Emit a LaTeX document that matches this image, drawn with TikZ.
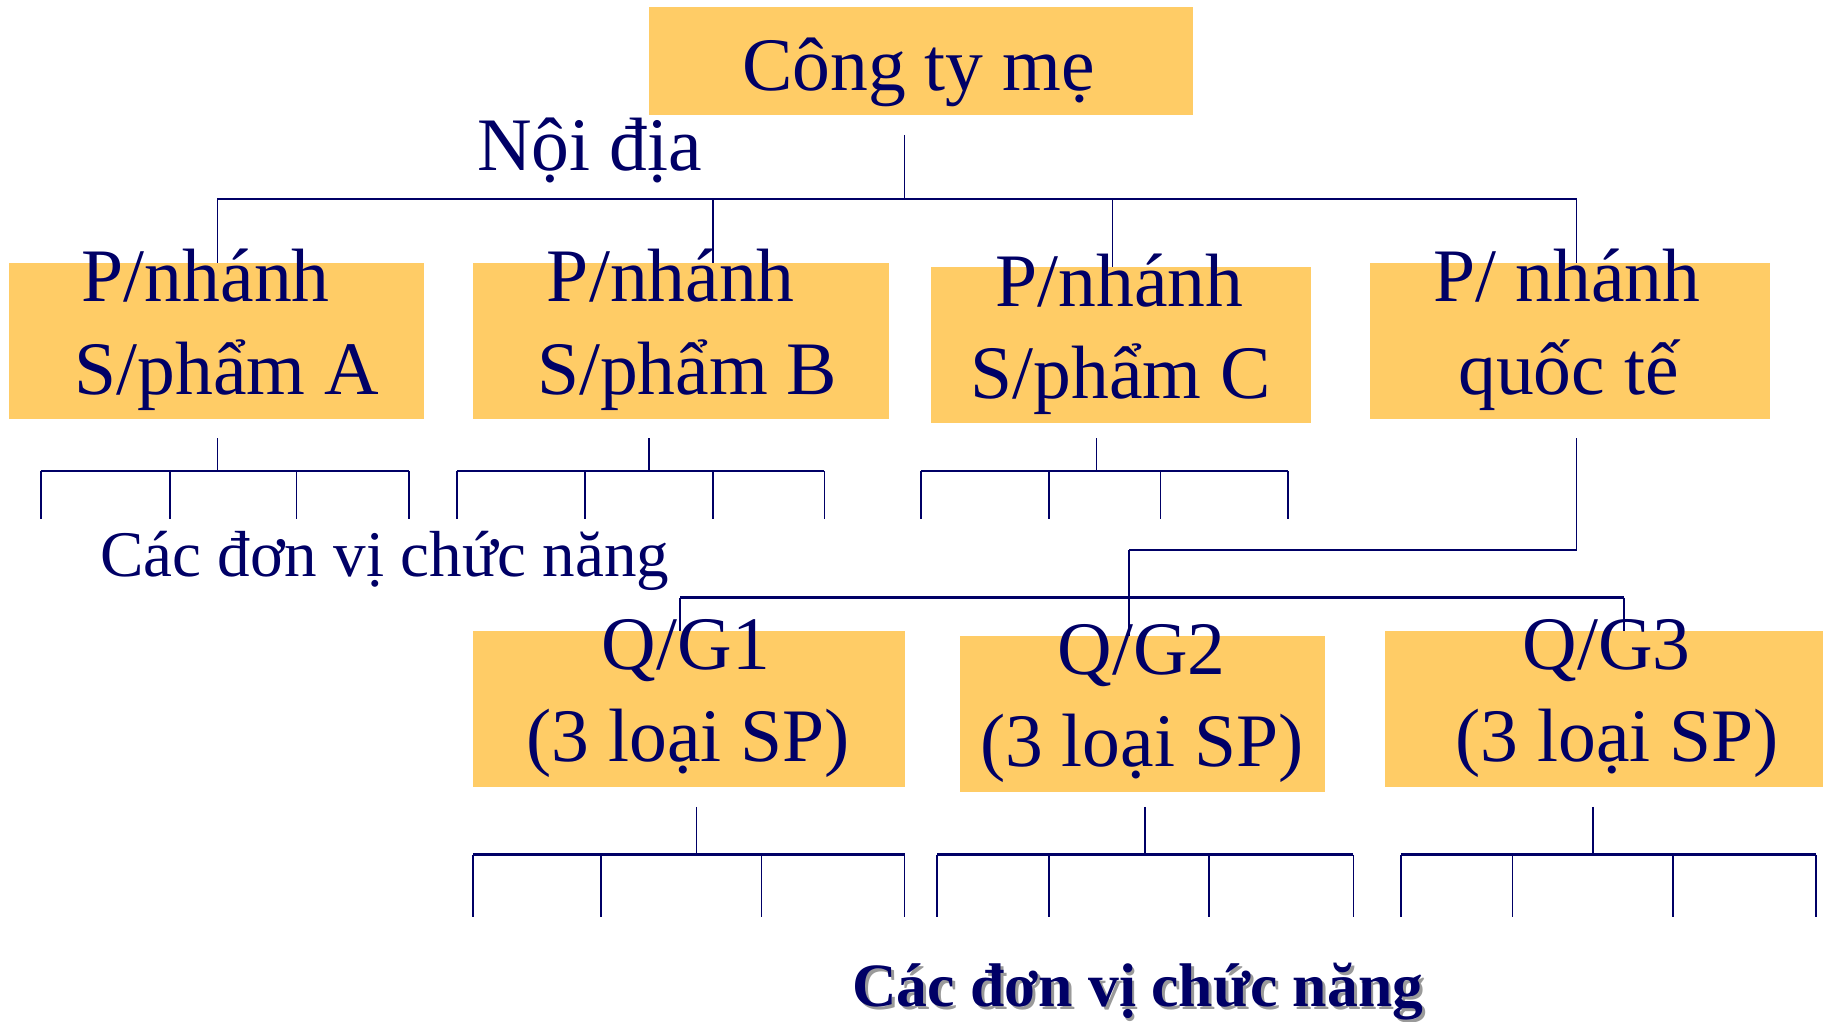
\documentclass[tikz,border=0pt]{standalone}
\usepackage{fontspec}
\setmainfont{Liberation Serif}
\definecolor{navy}{HTML}{000066}
\definecolor{boxfill}{HTML}{FFCC66}
\definecolor{shade}{HTML}{9A9A9A}
\begin{document}
\begin{tikzpicture}[x=1pt,y=-1pt,
  unit/.style={fill=boxfill,draw=none,inner sep=0pt},
  lbl/.style={anchor=base,inner sep=0pt,text=navy,font=\fontsize{65}{78}\selectfont},
  small/.style={anchor=base,inner sep=0pt,text=navy,font=\fontsize{56}{66}\selectfont},
  hline/.style={draw=navy,line width=2pt},
  vline/.style={draw=navy,line width=1.4pt}]
\useasboundingbox[fill=white] (0,0) rectangle (1568,879);

% ---- boxes ----
\node[unit,minimum width=468pt,minimum height=93pt] (top) at (792,52.5) {};
\node[unit,minimum width=357pt,minimum height=134pt] (A) at (186.5,293) {};
\node[unit,minimum width=358pt,minimum height=134pt] (B) at (586,293) {};
\node[unit,minimum width=327pt,minimum height=134pt] (C) at (964.5,297) {};
\node[unit,minimum width=344pt,minimum height=134pt] (D) at (1350,293) {};
\node[unit,minimum width=371pt,minimum height=134pt] (G1) at (592.5,610) {};
\node[unit,minimum width=314pt,minimum height=134pt] (G2) at (983,614) {};
\node[unit,minimum width=377pt,minimum height=134pt] (G3) at (1379.5,610) {};

% ---- parent company to branches ----
\coordinate (t0) at (778,116);
\coordinate (t1) at (778,171);
\coordinate (hL) at (187,171);
\coordinate (hR) at (1356,171);
\coordinate (hB) at (613,171);
\coordinate (hC) at (957,171);
\draw[vline] (t0) -- (t1);
\draw[hline] (hL) -- (hR);
\draw[vline] (hL) -- (hL |- A.north);
\draw[vline] (hB) -- (hB |- B.north);
\draw[vline] (hC) -- (hC |- C.north);
\draw[vline] (hR) -- (hR |- D.north);

% ---- functional units under the product branches ----
\foreach \nm/\sx/\ya/\yb/\yc/\xl/\xr/\legs in {
    A/187/377/405/446/35/352/{35,146,255,352},
    B/558/377/405/446/393/709/{393,503,613,709},
    C/943/377/405/446/792/1108/{792,902,998,1108},
    G1/599/694/735/789/407/778/{407,517,655,778},
    G2/985/694/735/789/806/1164/{806,902,1040,1164},
    G3/1370/694/735/789/1205/1562/{1205,1301,1439,1562}} {
  \coordinate (s\nm) at (\sx,\ya);
  \coordinate (j\nm) at (\sx,\yb);
  \coordinate (l\nm) at (\xl,\yb);
  \coordinate (r\nm) at (\xr,\yb);
  \draw[vline] (s\nm) -- (j\nm);
  \draw[hline] (l\nm) -- (r\nm);
  \foreach \lx [count=\i] in \legs {
    \coordinate (k\nm\i) at (\lx,\yb);
    \coordinate (e\nm\i) at (\lx,\yc);
    \draw[vline] (k\nm\i) -- (e\nm\i);
  }
}

% ---- international branch to regional units ----
\coordinate (d0) at (1356,377);
\coordinate (d1) at (1356,473);
\coordinate (d2) at (971,473);
\coordinate (qL) at (585,514);
\coordinate (qR) at (1397,514);
\draw[vline] (d0) -- (d1);
\draw[hline] (d1) -- (d2);
\draw[vline] (d2) -- (d2 |- G2.north);
\draw[hline] (qL) -- (qR);
\draw[vline] (qL) -- (qL |- G1.north);
\draw[vline] (qR) -- (qR |- G3.north);

% ---- labels ----
\node[lbl] (ttop) at (790,78) {Công ty mẹ};
\node[lbl] (tnd) at (507,147) {Nội địa};
\node[lbl] (tA1) at (177,259) {P/nhánh};
\node[lbl] (tA2) at (195,339) {S/phẩm A};
\node[lbl] (tB1) at (577,259) {P/nhánh};
\node[lbl] (tB2) at (591,339) {S/phẩm B};
\node[lbl] (tC1) at (963,264) {P/nhánh};
\node[lbl] (tC2) at (964,343) {S/phẩm C};
\node[lbl] (tD1) at (1348,259) {P/ nhánh};
\node[lbl] (tD2) at (1349,339) {quốc tế};
\node[small] (tfn) at (331,496) {Các đơn vị chức năng};
\node[lbl] (tG11) at (590,576) {Q/G1};
\node[lbl] (tG12) at (592,655) {(3 loại SP)};
\node[lbl] (tG21) at (982,580.5) {Q/G2};
\node[lbl] (tG22) at (982,659.6) {(3 loại SP)};
\node[lbl] (tG31) at (1382,576) {Q/G3};
\node[lbl] (tG32) at (1391,655) {(3 loại SP)};
\node[small,text=shade,font=\fontsize{53}{63}\selectfont\bfseries] (tfs) at (981,868.5) {Các đơn vị chức năng};
\node[small,font=\fontsize{53}{63}\selectfont\bfseries] (tfb) at (978.5,866) {Các đơn vị chức năng};
\end{tikzpicture}
\end{document}
